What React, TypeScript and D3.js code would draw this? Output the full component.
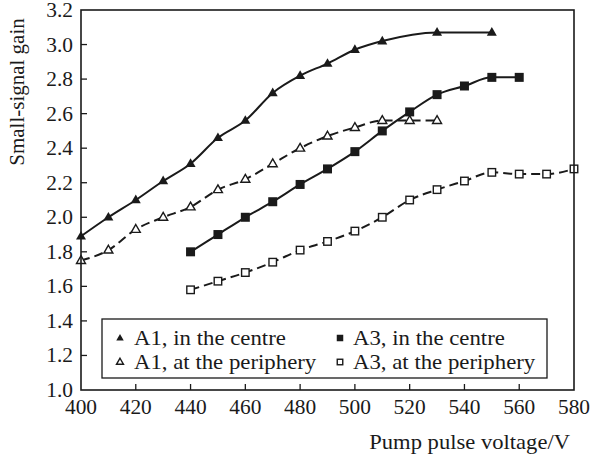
import * as d3 from "d3";

const a1CentreV = [400, 410, 420, 430, 440, 450, 460, 470, 480, 490, 500, 510, 530, 550];
const a1CentreGain = [1.89, 2.0, 2.1, 2.21, 2.31, 2.46, 2.56, 2.72, 2.82, 2.89, 2.97, 3.02, 3.07, 3.07];

const a1PeriphV = [400, 410, 420, 430, 440, 450, 460, 470, 480, 490, 500, 510, 520, 530];
const a1PeriphGain = [1.75, 1.81, 1.93, 2.0, 2.06, 2.16, 2.22, 2.31, 2.4, 2.47, 2.52, 2.56, 2.56, 2.56];

const a3CentreV = [440, 450, 460, 470, 480, 490, 500, 510, 520, 530, 540, 550, 560];
const a3CentreGain = [1.8, 1.9, 2.0, 2.09, 2.19, 2.28, 2.38, 2.5, 2.61, 2.71, 2.76, 2.81, 2.81];

const a3PeriphV = [440, 450, 460, 470, 480, 490, 500, 510, 520, 530, 540, 550, 560, 570, 580];
const a3PeriphGain = [1.58, 1.63, 1.68, 1.74, 1.81, 1.86, 1.92, 2.0, 2.1, 2.16, 2.21, 2.26, 2.25, 2.25, 2.28];

const xTicks = [400, 420, 440, 460, 480, 500, 520, 540, 560, 580];
const yTicks = [1.0, 1.2, 1.4, 1.6, 1.8, 2.0, 2.2, 2.4, 2.6, 2.8, 3.0, 3.2];

type Shape = "triangle" | "square";
type Series = { label: string; v: number[]; g: number[]; shape: Shape; filled: boolean; dashed: boolean };

const series: Series[] = [
  { label: "A1, in the centre", v: a1CentreV, g: a1CentreGain, shape: "triangle", filled: true, dashed: false },
  { label: "A1, at the periphery", v: a1PeriphV, g: a1PeriphGain, shape: "triangle", filled: false, dashed: true },
  { label: "A3, in the centre", v: a3CentreV, g: a3CentreGain, shape: "square", filled: true, dashed: false },
  { label: "A3, at the periphery", v: a3PeriphV, g: a3PeriphGain, shape: "square", filled: false, dashed: true },
];

const W = 592;
const H = 459;
const m = { left: 81, top: 10, right: 574, bottom: 390 };
const ink = "#1a1a1a";
const font = "'Liberation Serif', 'Times New Roman', serif";

// reference lettering is a slightly wider serif than Liberation Serif, so stretch it a bit
function Label({ x, y, anchor, children, sx = 1.12, dy, size = 20 }: { x: number; y: number; anchor?: string; children: any; sx?: number; dy?: string; size?: number }) {
  return (
    <text transform={`translate(${x},${y}) scale(${sx},1)`} textAnchor={anchor} dy={dy} fontSize={size} fill={ink}>
      {children}
    </text>
  );
}

function Marker({ x, y, shape, filled, size }: { x: number; y: number; shape: Shape; filled: boolean; size: number }) {
  const fill = filled ? ink : "#fff";
  const sw = filled ? 0 : 1.4;
  if (shape === "square") {
    const s = filled ? size : size - 1.5;
    return <rect x={x - s / 2} y={y - s / 2} width={s} height={s} fill={fill} stroke={ink} strokeWidth={sw} />;
  }
  const s = filled ? size + 1 : size;
  const h = s * 0.87;
  const p = `M${x},${y - h * 0.62}L${x + s / 2},${y + h * 0.38}L${x - s / 2},${y + h * 0.38}Z`;
  return <path d={p} fill={fill} stroke={ink} strokeWidth={sw} strokeLinejoin="miter" />;
}

export default function App() {
  const x = d3.scaleLinear().domain([400, 580]).range([m.left, m.right]);
  const y = d3.scaleLinear().domain([1.0, 3.2]).range([m.bottom, m.top]);

  const line = d3
    .line<[number, number]>()
    .x((d) => x(d[0]))
    .y((d) => y(d[1]))
    .curve(d3.curveMonotoneX);

  const legendRows = [
    { s: series[0], cx: 120, tx: 134, cy: 338 },
    { s: series[1], cx: 120, tx: 134, cy: 362 },
    { s: series[2], cx: 340, tx: 353, cy: 338 },
    { s: series[3], cx: 340, tx: 353, cy: 362 },
  ];

  return (
    <svg width={W} height={H} style={{ position: "absolute", left: 0, top: 0 }} fontFamily={font}>
      <rect width={W} height={H} fill="#fff" />

      {/* ticks */}
      {yTicks.map((t) => (
        <g key={"y" + t}>
          {t > 1.0 && t < 3.2 && (
            <line x1={m.left} x2={m.left + 6} y1={y(t)} y2={y(t)} stroke={ink} strokeWidth={1.3} />
          )}
          <Label x={73} y={y(t)} dy="0.35em" anchor="end" sx={1.07}>
            {t.toFixed(1)}
          </Label>
        </g>
      ))}
      {xTicks.map((t) => (
        <g key={"x" + t}>
          {t > 400 && t < 580 && (
            <line x1={x(t)} x2={x(t)} y1={m.bottom} y2={m.bottom - 6} stroke={ink} strokeWidth={1.3} />
          )}
          <Label x={x(t)} y={414} anchor="middle" sx={1.07}>
            {t}
          </Label>
        </g>
      ))}

      {/* series */}
      {series.map((s) => {
        const pts = s.v.map((v, i) => [v, s.g[i]] as [number, number]);
        return (
          <g key={s.label}>
            <path
              d={line(pts) ?? ""}
              fill="none"
              stroke={ink}
              strokeWidth={2}
              strokeDasharray={s.dashed ? "9,5" : undefined}
            />
            {pts.map((p, i) => (
              <Marker key={i} x={x(p[0])} y={y(p[1])} shape={s.shape} filled={s.filled} size={9} />
            ))}
          </g>
        );
      })}

      {/* frame */}
      <rect x={m.left} y={m.top} width={m.right - m.left} height={m.bottom - m.top} fill="none" stroke={ink} strokeWidth={1.6} />

      {/* legend */}
      <rect x={102} y={319} width={445} height={59} fill="#fff" stroke={ink} strokeWidth={1.3} />
      {legendRows.map((r) => (
        <g key={r.s.label}>
          <Marker x={r.cx} y={r.cy} shape={r.s.shape} filled={r.s.filled} size={r.s.filled ? 6.5 : 7} />
          <Label x={r.tx} y={r.cy} dy="0.35em" sx={1.14}>
            {r.s.label}
          </Label>
        </g>
      ))}

      {/* axis titles */}
      <g transform="translate(24,92) rotate(-90)">
        <Label x={0} y={0} anchor="middle" sx={1.05}>
          Small-signal gain
        </Label>
      </g>
      <Label x={570} y={449} anchor="end" sx={1.13}>
        Pump pulse voltage/V
      </Label>
    </svg>
  );
}
